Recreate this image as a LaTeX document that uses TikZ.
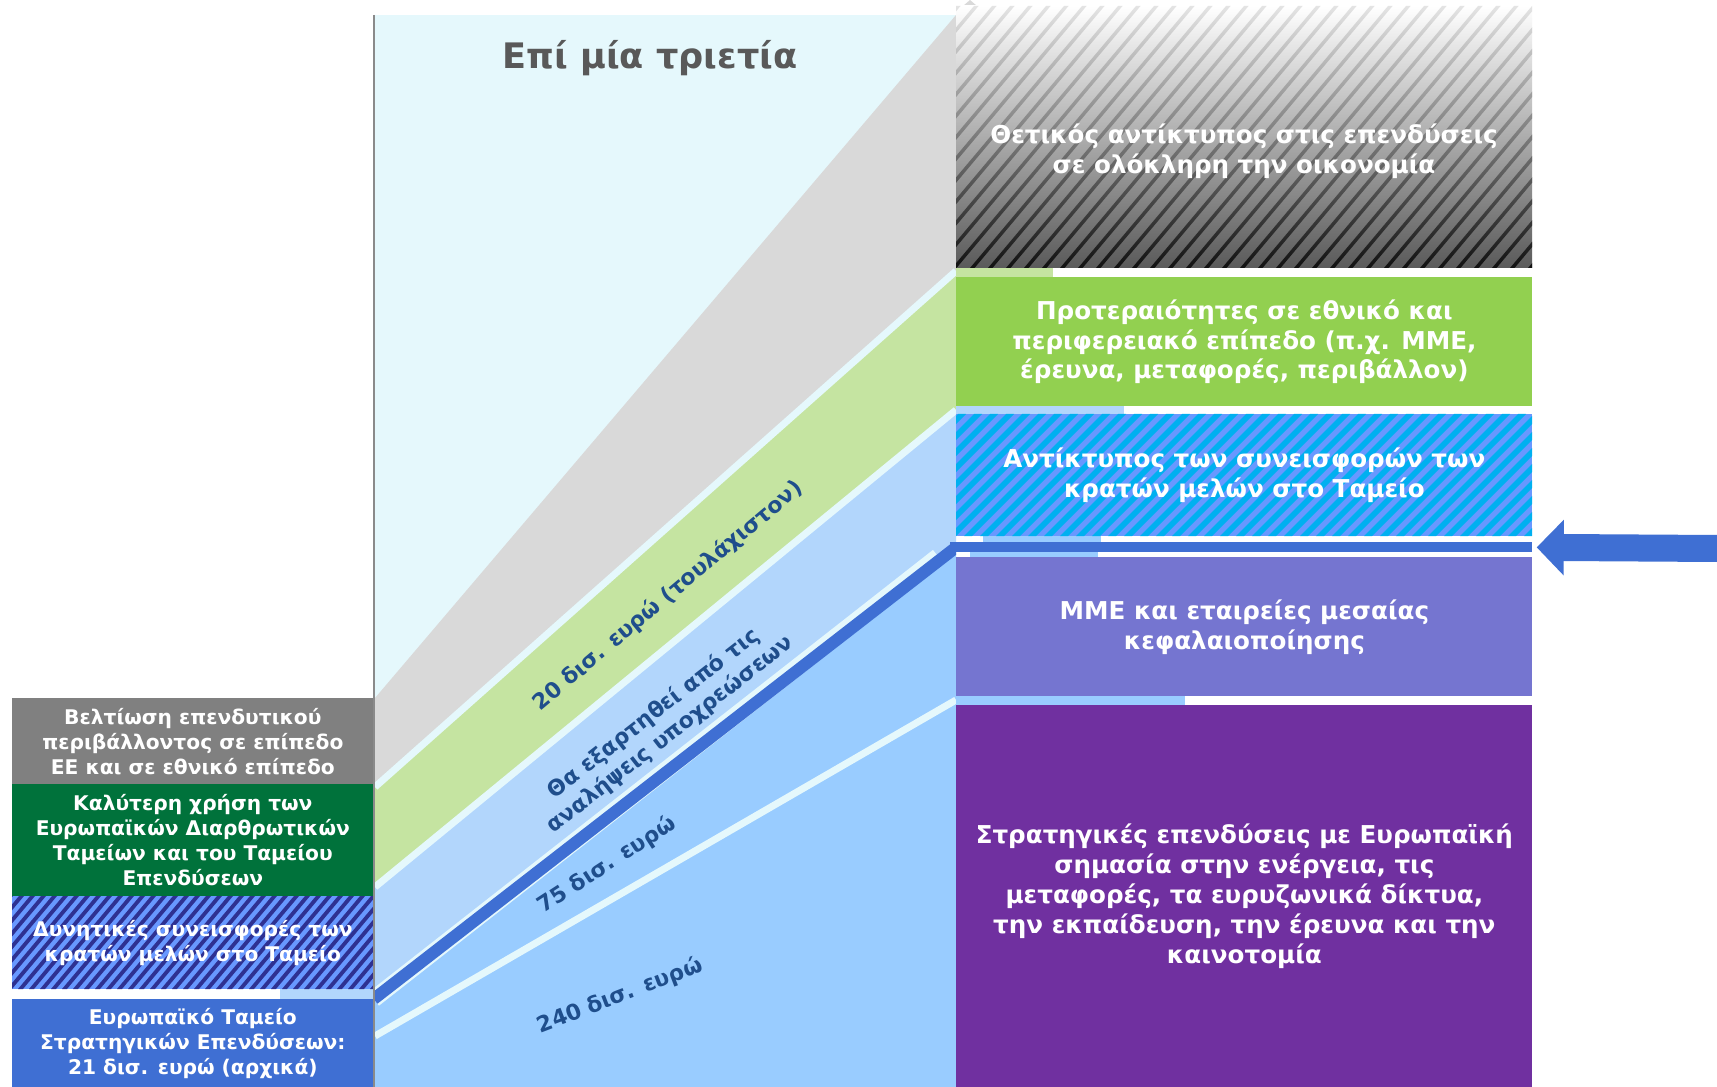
\documentclass[tikz,border=0pt]{standalone}
\usepackage{fontspec}
\setmainfont{DejaVu Sans}
\usetikzlibrary{arrows.meta}

\definecolor{bgcyan}{HTML}{E5F8FC}
\definecolor{bandgray}{HTML}{D9D9D9}
\definecolor{bandgreen}{HTML}{C5E4A1}
\definecolor{banddots}{HTML}{B2D6FC}
\definecolor{bandblue}{HTML}{99CCFF}
\definecolor{efsiblue}{HTML}{3F6FD3}
\definecolor{boxgray}{HTML}{808080}
\definecolor{boxgreen}{HTML}{00723B}
\definecolor{navystripe}{HTML}{2E3192}
\definecolor{lightstripe}{HTML}{6898FF}
\definecolor{cyanstripe}{HTML}{00B0F0}
\definecolor{prioritygreen}{HTML}{92D050}
\definecolor{smeviolet}{HTML}{7575D0}
\definecolor{strategicpurple}{HTML}{7030A0}
\definecolor{labelblue}{HTML}{1F4E8C}
\definecolor{titlegray}{HTML}{595959}
\definecolor{gradbottom}{HTML}{5A5A5A}
\definecolor{stripetop}{HTML}{E4E4E4}
\definecolor{stripebottom}{HTML}{111111}
\definecolor{dividergray}{HTML}{8A8A8A}

\newcommand{\px}{0.02cm}

\tikzset{
  lbox/.style={anchor=north west, inner sep=0pt, minimum width=361*\px, align=center,
    text=white, font=\bfseries\fontsize{11.5}{14.2}\selectfont},
  rbox/.style={anchor=north west, inner sep=0pt, minimum width=576*\px, align=center,
    text=white, font=\bfseries\fontsize{14}{17}\selectfont},
  band label/.style={text=labelblue, align=center, inner sep=0pt,
    font=\bfseries\fontsize{12.5}{15}\selectfont},
  gap/.style={draw=bgcyan, line width=7*\px},
}

\begin{document}
\begin{tikzpicture}[x=\px, y=-\px]
  \useasboundingbox[fill=white] (0,0) rectangle (1717,1087);

  % middle panel and the bands
  \fill[bgcyan] (375,15) rectangle (956,1087);
  \fill[bandgray] (375,698) -- (956,15) -- (956,271) -- (375,787) -- cycle;
  \fill[bandgray] (963,6) -- (970,0) -- (977,6) -- cycle;
  \fill[bandgreen] (375,787) -- (956,271) -- (956,410) -- (375,887) -- cycle;
  \fill[banddots] (375,887) -- (956,410) -- (956,547) -- (375,1000) -- cycle;
  \fill[bandblue] (375,1000) -- (956,547) -- (956,1087) -- (375,1087) -- cycle;
  \draw[gap] (375,787) -- (956,271);
  \draw[gap] (375,887) -- (956,410);
  \draw[gap] (375,1036) -- (956,700);

  % bits of the bands seen between the boxes
  \fill[bandgreen] (956,268) rectangle (1053,277);
  \fill[banddots] (956,406) rectangle (1124,414);
  \fill[bandblue] (983,536) rectangle (1101,542);
  \fill[bandblue] (970,552) rectangle (1098,557);
  \fill[bandblue] (956,696) rectangle (1185,705);
  \fill[banddots] (280,989) rectangle (373,999);

  % left column
  \node[lbox, fill=boxgray, minimum height=86*\px] (improve) at (12,698)
    {Βελτίωση επενδυτικού\\περιβάλλοντος σε επίπεδο\\ΕΕ και σε εθνικό επίπεδο};
  \node[lbox, fill=boxgreen, minimum height=112*\px] (structural) at (12,784)
    {Καλύτερη χρήση των\\Ευρωπαϊκών Διαρθρωτικών\\Ταμείων και του Ταμείου\\Επενδύσεων};
  \begin{scope}
    \clip (12,896) rectangle (373,989);
    \fill[lightstripe] (12,896) rectangle (373,989);
    \foreach \k in {0,...,42}
      \fill[navystripe] ({-70+\k*11},989) -- ++(5,0) -- ++(78,-93) -- ++(-5,0) -- cycle;
  \end{scope}
  \node[lbox, minimum height=93*\px] (national) at (12,896)
    {Δυνητικές συνεισφορές των\\κρατών μελών στο Ταμείο};
  \node[lbox, fill=efsiblue, minimum height=88*\px] (efsi) at (12,999)
    {Ευρωπαϊκό Ταμείο\\Στρατηγικών Επενδύσεων:\\21 δισ. ευρώ (αρχικά)};

  % right column
  \begin{scope}
    \clip (956,6) rectangle (1532,268);
    \shade[top color=white, bottom color=gradbottom] (956,6) rectangle (1532,268);
    \shade[top color=stripetop, bottom color=stripebottom]
      foreach \k in {0,...,46} {({736+\k*18},268) -- ++(4.5,0) -- ++(220,-262) -- ++(-4.5,0) -- cycle};
  \end{scope}
  \node[align=center, text=white, font=\bfseries\fontsize{14}{17}\selectfont] (spillover) at (1244,151)
    {Θετικός αντίκτυπος στις επενδύσεις\\σε ολόκληρη την οικονομία};
  \node[rbox, fill=prioritygreen, minimum height=129*\px] (priorities) at (956,277)
    {Προτεραιότητες σε εθνικό και\\περιφερειακό επίπεδο (π.χ. ΜΜΕ,\\έρευνα, μεταφορές, περιβάλλον)};
  \begin{scope}
    \clip (956,414) rectangle (1532,536);
    \fill[lightstripe] (956,414) rectangle (1532,536);
    \foreach \k in {0,...,44}
      \fill[cyanstripe] ({836+\k*16},536) -- ++(8,0) -- ++(122,-122) -- ++(-8,0) -- cycle;
  \end{scope}
  \node[rbox, minimum height=122*\px] (contrib) at (956,414)
    {Αντίκτυπος των συνεισφορών των\\κρατών μελών στο Ταμείο};
  \node[rbox, fill=efsiblue, minimum width=582*\px, minimum height=10*\px] (efsibar) at (950,542) {};
  \node[rbox, fill=smeviolet, minimum height=139*\px] (sme) at (956,557)
    {ΜΜΕ και εταιρείες μεσαίας\\κεφαλαιοποίησης};
  \node[rbox, fill=strategicpurple, minimum height=382*\px] (strategic) at (956,705)
    {Στρατηγικές επενδύσεις με Ευρωπαϊκή\\σημασία στην ενέργεια, τις\\μεταφορές, τα ευρυζωνικά δίκτυα,\\την εκπαίδευση, την έρευνα και την\\καινοτομία};

  % the fund line from the left box to the bar
  \begin{scope}
    \clip (375,0) rectangle (956,1087);
    \draw[bgcyan, line width=17*\px, shorten >=0.3cm] (efsi.north east) -- (efsibar.west);
    \draw[efsiblue, line width=12*\px] (efsi.north east) -- ([xshift=0.12cm]efsibar.west);
  \end{scope}
  \draw[dividergray, line width=2.5*\px] (374,15) -- (374,1087);

  % labels
  \node[text=titlegray, font=\bfseries\fontsize{20}{24}\selectfont] (title) at (650,58) {Επί μία τριετία};
  \node[band label, rotate=40] (lab20) at (668,596) {20 δισ. ευρώ (τουλάχιστον)};
  \node[band label, rotate=38] (labdep) at (662,724) {Θα εξαρτηθεί από τις\\αναλήψεις υποχρεώσεων};
  \node[band label, rotate=33] (lab75) at (607,865) {75 δισ. ευρώ};
  \node[band label, rotate=21] (lab240) at (620,996) {240 δισ. ευρώ};

  % arrow pointing at the bar
  \coordinate (arrowtail) at (1717,548.5);
  \draw[efsiblue, line width=27*\px, -{Triangle[length=0.54cm 0 0, width=1.08cm 0 0]}]
    (arrowtail) -- ([xshift=0.08cm]efsibar.east);
\end{tikzpicture}
\end{document}
